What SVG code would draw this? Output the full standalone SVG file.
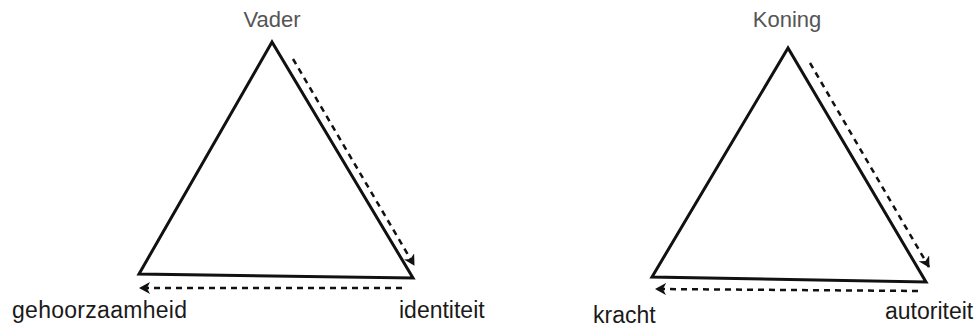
<svg xmlns="http://www.w3.org/2000/svg" width="976" height="332" viewBox="0 0 976 332">
<style>
.tri{fill:none;stroke:#111;stroke-width:3;stroke-linejoin:miter}
.dash{fill:none;stroke:#111;stroke-width:2.5;stroke-dasharray:6 5;marker-end:url(#ah)}
.top{font-family:"Liberation Sans",Arial,sans-serif;font-size:22px;fill:#555}
.lbl{font-family:"Liberation Sans",Arial,sans-serif;font-size:23px;fill:#1a1a1a}
</style>
<defs>
<marker id="ah" viewBox="0 0 12 12" refX="10" refY="6" markerWidth="12" markerHeight="12" markerUnits="userSpaceOnUse" orient="auto">
<path d="M0,0 L11,6 L0,12 L3,6 Z" fill="#111"/>
</marker>
</defs>
<rect width="976" height="332" fill="#fff"/>
<g id="triangle-vader">
<polygon class="tri" points="272,42 139,274 413,278"/>
</g>
<g id="triangle-koning">
<polygon class="tri" points="788,48 652,277 926,282"/>
</g>
<g id="connectors">
<line class="dash" x1="293" y1="59" x2="414" y2="265"/>
<line class="dash" x1="402" y1="288" x2="140" y2="288"/>
<line class="dash" x1="810" y1="63" x2="929" y2="267"/>
<line class="dash" x1="918" y1="291" x2="656" y2="289"/>
</g>
<g id="node-vader"><text class="top" x="272" y="27" text-anchor="middle">Vader</text></g>
<g id="node-gehoorzaamheid"><text class="lbl" x="12" y="318" textLength="175" lengthAdjust="spacing">gehoorzaamheid</text></g>
<g id="node-identiteit"><text class="lbl" x="399" y="318">identiteit</text></g>
<g id="node-koning"><text class="top" x="787" y="27" text-anchor="middle">Koning</text></g>
<g id="node-kracht"><text class="lbl" x="593" y="323">kracht</text></g>
<g id="node-autoriteit"><text class="lbl" x="885" y="319">autoriteit</text></g>
</svg>
